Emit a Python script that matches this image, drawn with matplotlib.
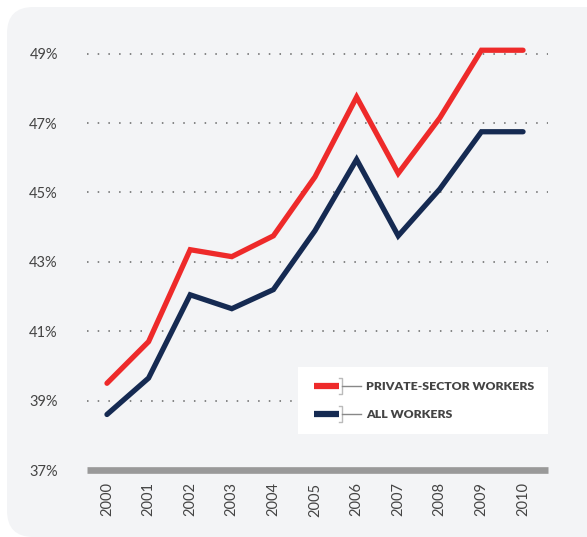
import numpy as np
import matplotlib
matplotlib.use("Agg")
import matplotlib.pyplot as plt
from matplotlib.patches import FancyBboxPatch, Rectangle
from matplotlib.lines import Line2D

years = list(range(2000, 2011))
private_sector = [39.5, 40.7, 43.35, 43.15, 43.75, 45.45, 47.75, 45.55, 47.15, 49.1, 49.1]
all_workers = [38.6, 39.65, 42.05, 41.65, 42.2, 43.9, 45.95, 43.75, 45.1, 46.75, 46.75]
series_labels = ["PRIVATE-SECTOR WORKERS", "ALL WORKERS"]
y_ticks = [37, 39, 41, 43, 45, 47, 49]

RED = "#ee2a2a"
NAVY = "#152a52"
TXT = "#444444"
W, H = 587, 537

plt.rcParams['font.family'] = ['Lato', 'DejaVu Sans']

fig = plt.figure(figsize=(W / 100, H / 100), dpi=100)
fig.patch.set_facecolor("white")

# rounded grey panel behind everything
bg = FancyBboxPatch((7 / W, 0), (W + 20) / W, (H - 7) / H,
                    boxstyle="round,pad=0,rounding_size=0.045",
                    transform=fig.transFigure, facecolor="#f3f4f6",
                    edgecolor="none", zorder=-10, mutation_aspect=W / H)
fig.patches.append(bg)

ax = fig.add_axes([87 / W, 67 / H, (548 - 87) / W, (H - 67 - 19) / H])
ax.set_facecolor("none")
ax.set_zorder(1)

for y in y_ticks[1:]:
    ax.axhline(y, color="#666666", lw=1.1, ls=(0, (1, 6)), zorder=1)
ax.axhline(37, color="#999999", lw=4.8, zorder=2, solid_capstyle="butt", clip_on=False)

ax.plot(years, private_sector, color=RED, lw=3.8, solid_capstyle="round",
        solid_joinstyle="miter", zorder=4)
ax.plot(years, all_workers, color=NAVY, lw=3.8, solid_capstyle="round",
        solid_joinstyle="miter", zorder=3)

ax.set_xlim(1999.52, 2010.6)
ax.set_ylim(37, 50)
ax.set_yticks(y_ticks)
ax.set_yticklabels([f"{v}%" for v in y_ticks])
ax.set_xticks(years)
ax.set_xticklabels([str(y) for y in years], rotation=90)
ax.tick_params(axis="y", length=0, pad=21, labelsize=10.5, labelcolor=TXT)
ax.tick_params(axis="x", length=0, pad=9, labelsize=10.5, labelcolor=TXT)
for s in ax.spines.values():
    s.set_visible(False)

# legend box drawn by hand to get the bracket connectors
def fx(px):
    return px / W

def fy(py):
    return 1 - py / H

fig.patches.append(Rectangle((fx(298), fy(434)), fx(548) - fx(298), fy(367) - fy(434),
                             transform=fig.transFigure, facecolor="white",
                             edgecolor="none", zorder=5))
for py, col, lab in [(386, RED, series_labels[0]), (414, NAVY, series_labels[1])]:
    fig.lines.append(Line2D([fx(314), fx(339)], [fy(py), fy(py)], color=col, lw=4.5,
                            transform=fig.transFigure, zorder=6, solid_capstyle="butt"))
    fig.lines.append(Line2D([fx(339), fx(342), fx(342), fx(339)],
                            [fy(py - 8), fy(py - 8), fy(py + 8), fy(py + 8)],
                            color="#bbbbbb", lw=1, transform=fig.transFigure, zorder=6))
    fig.lines.append(Line2D([fx(342), fx(361)], [fy(py), fy(py)], color="#888888", lw=1,
                            transform=fig.transFigure, zorder=6))
    fig.text(fx(366), fy(py), lab, fontsize=8.8, fontweight="heavy", color=TXT,
             va="center", ha="left", zorder=7)

fig.savefig("out.png", dpi=100)
